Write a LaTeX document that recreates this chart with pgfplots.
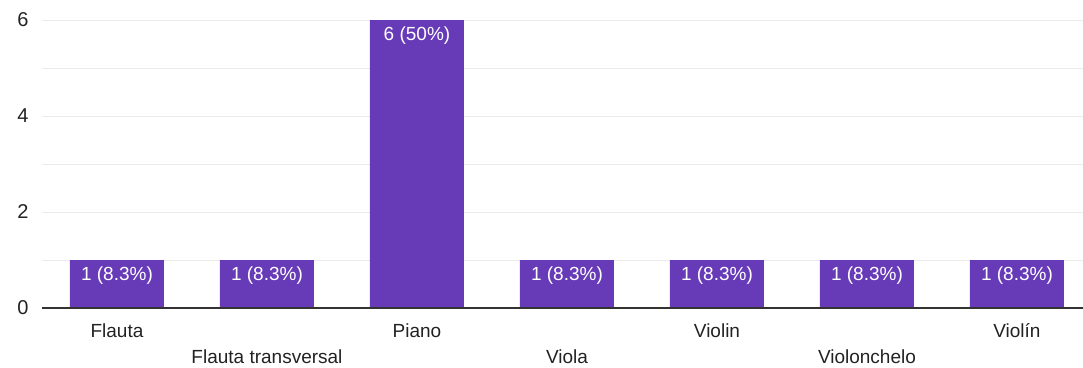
\documentclass[border=0pt]{standalone}
\usepackage{pgfplots}
\pgfplotsset{compat=1.18}
\usepackage{fontspec}
\setmainfont{Liberation Sans}
\definecolor{barc}{HTML}{673AB7}
\definecolor{gridc}{HTML}{EBEBEB}
\definecolor{axc}{HTML}{333333}
\definecolor{txt}{HTML}{222222}
\newcommand{\low}[1]{\raisebox{-26pt}[\height]{#1}}
\begin{document}
\begin{tikzpicture}
\path[use as bounding box] (-42pt,-59pt) rectangle (1041pt,308pt);
\begin{axis}[
  at={(0,0)}, anchor=south west,
  scale only axis, width=1041pt, height=288pt,
  xmin=-0.5, xmax=6.44, ymin=0, ymax=6,
  axis line style={draw=none},
  ytick={0,2,4,6}, minor ytick={1,3,5},
  ymajorgrids, yminorgrids,
  major grid style={gridc, line width=1pt},
  minor grid style={gridc, line width=1pt},
  tick style={draw=none},
  xtick={0,1,2,3,4,5,6},
  xticklabels={Flauta,{\low{Flauta transversal}},Piano,{\low{Viola}},Violin,{\low{Violonchelo}},Violín},
  xticklabel style={font=\fontsize{19}{23}\selectfont, text=txt, anchor=north, yshift=-8pt},
  yticklabel style={font=\fontsize{20}{22}\selectfont, text=txt, xshift=-10pt},
  /pgf/number format/assume math mode=true,
  ybar, bar width=94pt,
  nodes near coords, point meta=explicit symbolic,
  every node near coord/.append style={anchor=north, yshift=-3pt, text=white, font=\fontsize{19}{22}\selectfont},
  clip=false,
]
\addplot[fill=barc, draw=none] coordinates {
 (0,1) [1 (8.3\%)]
 (1,1) [1 (8.3\%)]
 (2,6) [6 (50\%)]
 (3,1) [1 (8.3\%)]
 (4,1) [1 (8.3\%)]
 (5,1) [1 (8.3\%)]
 (6,1) [1 (8.3\%)]
};
\draw[axc, line width=1.5pt] (axis cs:-0.5,0) -- (axis cs:6.44,0);
\end{axis}
\end{tikzpicture}
\end{document}
